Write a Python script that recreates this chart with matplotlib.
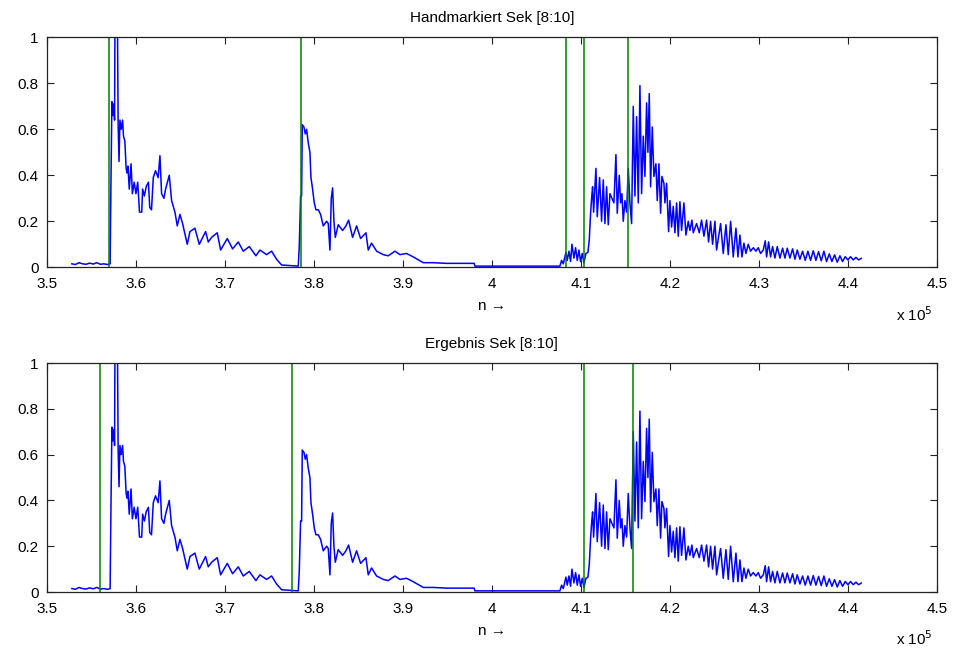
import numpy as np
import matplotlib
matplotlib.use('Agg')
import matplotlib.pyplot as plt

plt.rcParams['font.family'] = ['Liberation Sans', 'DejaVu Sans']

# Signal (sample index n, normierte Amplitude)
n_vals = [352800, 353200, 353600, 354000, 354400, 354800, 355200, 355600, 356000, 356400, 356800, 357100,
          357190, 357300, 357400, 357500, 357600, 357650, 357900, 358000, 358100, 358200, 358350, 358500,
          358600, 358750, 358900, 359000, 359100, 359250, 359450, 359600, 359800, 360000, 360200, 360400,
          360650, 360750, 360950, 361150, 361400, 361550, 361750, 361950, 362200, 362500, 362696, 362883,
          363145, 363333, 363745, 364007, 364381, 364644, 364943, 365243, 365767, 366067, 366628, 367115,
          367827, 368126, 368501, 369138, 369512, 370261, 370860, 371497, 372059, 372733, 373482, 373931,
          374680, 375242, 375803, 376365, 378238, 378352, 378502, 378614, 378689, 378877, 379026, 379176,
          379363, 379551, 379663, 379850, 380037, 380225, 380487, 380749, 381049, 381423, 381610, 381798,
          381948, 382097, 382247, 382397, 382734, 383220, 383595, 383895, 384344, 384794, 385243, 385842,
          386105, 386479, 387041, 387790, 388351, 389100, 389662, 390411, 391160, 392284, 393407, 394905,
          396403, 398000, 398088, 407638, 407825, 408016, 408315, 408465, 408652, 408840, 408989, 409214,
          409401, 409589, 409776, 409963, 410150, 410338, 410562, 410787, 410937, 411087, 411199, 411311,
          411424, 411536, 411686, 411835, 412098, 412322, 412510, 412697, 412884, 413071, 413259, 413483,
          413708, 413933, 414082, 414307, 414457, 414607, 414756, 414944, 415131, 415318, 415506, 415693,
          415880, 416068, 416255, 416442, 416629, 416817, 417004, 417191, 417378, 417528, 417678, 417828,
          418015, 418202, 418427, 418576, 418764, 418951, 419101, 419325, 419438, 419625, 419850, 419999,
          420187, 420374, 420561, 420749, 420936, 421123, 421310, 421573, 421797, 422059, 422247, 422471,
          422621, 422996, 423295, 423557, 423820, 424119, 424344, 424569, 424793, 425055, 425243, 425693,
          425993, 426292, 426554, 426817, 427116, 427416, 427640, 427865, 428090, 428315, 428539, 428801,
          429063, 429363, 429663, 429925, 430187, 430487, 430711, 430861, 431086, 431310, 431535, 431797,
          432059, 432359, 432659, 432921, 433183, 433483, 433782, 434044, 434307, 434606, 434906, 435205,
          435505, 435805, 436104, 436404, 436703, 437003, 437302, 437602, 437902, 438201, 438501, 438800,
          439100, 439400, 439699, 439999, 440298, 440598, 440897, 441197, 441497]
amp = [0.015, 0.012, 0.02, 0.015, 0.013, 0.018, 0.014, 0.02, 0.013, 0.015, 0.012, 0.015,
       0.36, 0.72, 0.66, 0.71, 0.64, 1.15, 1.2, 0.62, 0.46, 0.64, 0.60, 0.64,
       0.57, 0.55, 0.43, 0.41, 0.44, 0.34, 0.45, 0.32, 0.37, 0.32, 0.37, 0.24,
       0.24, 0.34, 0.31, 0.35, 0.37, 0.26, 0.25, 0.39, 0.42, 0.39, 0.485, 0.32,
       0.30, 0.34, 0.40, 0.29, 0.24, 0.18, 0.23, 0.19, 0.10, 0.155, 0.17, 0.10,
       0.155, 0.11, 0.13, 0.15, 0.075, 0.125, 0.08, 0.11, 0.07, 0.09, 0.05, 0.075,
       0.055, 0.07, 0.035, 0.01, 0.005, 0.09, 0.31, 0.31, 0.62, 0.61, 0.58, 0.60,
       0.54, 0.50, 0.39, 0.34, 0.28, 0.25, 0.25, 0.23, 0.18, 0.20, 0.19, 0.075,
       0.30, 0.345, 0.20, 0.13, 0.185, 0.16, 0.18, 0.205, 0.13, 0.18, 0.125, 0.15,
       0.075, 0.105, 0.07, 0.055, 0.05, 0.07, 0.055, 0.06, 0.045, 0.02, 0.02, 0.017,
       0.017, 0.017, 0.005, 0.005, 0.03, 0.015, 0.065, 0.03, 0.07, 0.025, 0.10, 0.04,
       0.085, 0.03, 0.075, 0.025, 0.06, 0.02, 0.06, 0.065, 0.12, 0.235, 0.30, 0.35,
       0.24, 0.32, 0.43, 0.22, 0.39, 0.20, 0.38, 0.19, 0.35, 0.185, 0.32, 0.30,
       0.28, 0.49, 0.235, 0.40, 0.28, 0.32, 0.20, 0.29, 0.24, 0.43, 0.28, 0.19,
       0.70, 0.31, 0.655, 0.28, 0.79, 0.32, 0.57, 0.395, 0.715, 0.50, 0.755, 0.35,
       0.61, 0.395, 0.45, 0.29, 0.45, 0.235, 0.395, 0.365, 0.28, 0.365, 0.155, 0.29,
       0.175, 0.265, 0.15, 0.28, 0.135, 0.285, 0.16, 0.28, 0.14, 0.20, 0.16, 0.205,
       0.15, 0.19, 0.15, 0.205, 0.135, 0.205, 0.11, 0.20, 0.10, 0.20, 0.075, 0.19,
       0.06, 0.185, 0.055, 0.20, 0.045, 0.17, 0.045, 0.14, 0.045, 0.105, 0.06, 0.10,
       0.07, 0.085, 0.07, 0.085, 0.06, 0.075, 0.115, 0.045, 0.11, 0.045, 0.09, 0.04,
       0.09, 0.04, 0.083, 0.04, 0.083, 0.04, 0.08, 0.035, 0.075, 0.035, 0.07, 0.03,
       0.07, 0.03, 0.072, 0.03, 0.068, 0.028, 0.07, 0.025, 0.058, 0.025, 0.054, 0.022,
       0.05, 0.025, 0.046, 0.032, 0.046, 0.032, 0.043, 0.032, 0.039]

# Segmentgrenzen
marks_hand = [357000, 378500, 408280, 410340, 415320]
marks_result = [355960, 377530, 410370, 415810]

titles = ['Handmarkiert Sek [8:10]', 'Ergebnis Sek [8:10]']
xticks = [3.5, 3.6, 3.7, 3.8, 3.9, 4.0, 4.1, 4.2, 4.3, 4.4, 4.5]
yticks = [0, 0.2, 0.4, 0.6, 0.8, 1]

fig = plt.figure(figsize=(9.58, 6.5), dpi=100)
ax1 = fig.add_axes([0.049, 0.5888, 0.929, 0.3538])
ax2 = fig.add_axes([0.049, 0.0892, 0.929, 0.3523])

for ax, title, marks in zip([ax1, ax2], titles, [marks_hand, marks_result]):
    ax.plot(n_vals, amp, color='#0000ff', lw=1.1)
    for m in marks:
        ax.axvline(m, color='#008000', lw=1.1)
    ax.set_xlim(350000, 450000)
    ax.set_ylim(0, 1)
    ax.set_xticks([t * 1e5 for t in xticks])
    ax.set_xticklabels(['%g' % t for t in xticks])
    ax.set_yticks(yticks)
    ax.set_yticklabels(['%g' % t for t in yticks])
    ax.tick_params(direction='in', top=True, right=True, length=5, labelsize=11, color='#222222')
    ax.tick_params(axis='x', pad=7)
    ax.tick_params(axis='y', pad=6)
    for s in ax.spines.values():
        s.set_color('#222222')
        s.set_linewidth(0.9)
    ax.set_title(title, fontsize=11, pad=11)
    ax.set_xlabel('n \u2192', fontsize=11, labelpad=6)
    ax.annotate(r'x 10$^{5}$', xy=(1, 0), xycoords='axes fraction',
                xytext=(-4, -47), textcoords='offset pixels',
                ha='right', va='center', fontsize=11)

fig.savefig('out.png', dpi=100)
